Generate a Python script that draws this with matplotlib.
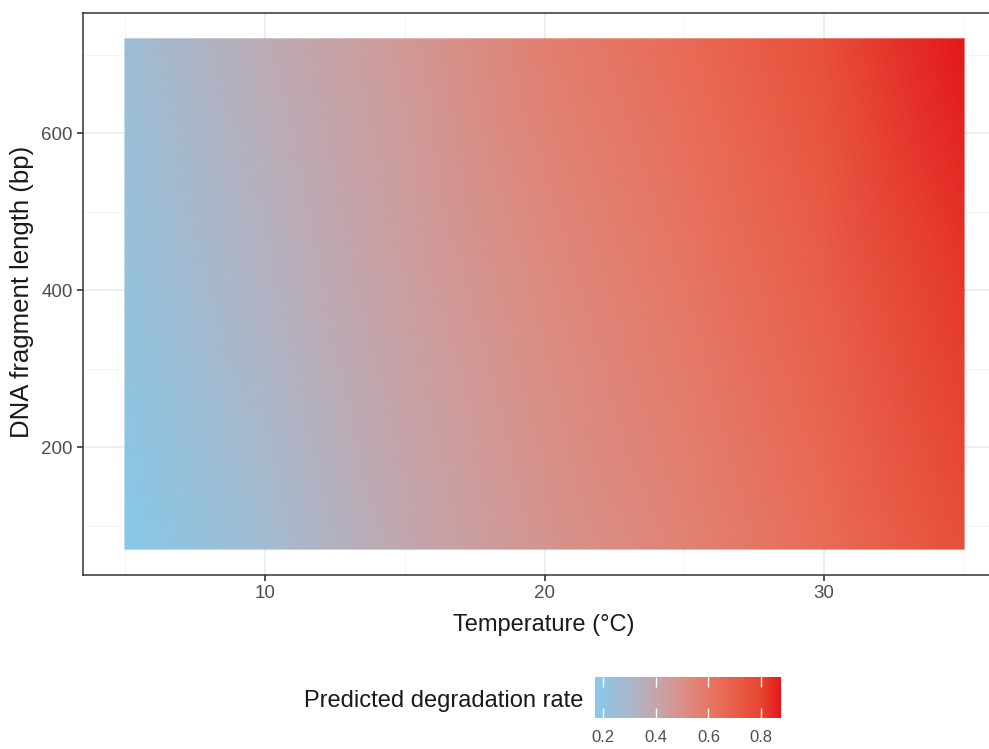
import numpy as np
import matplotlib
matplotlib.use("Agg")
import matplotlib.pyplot as plt
from matplotlib.colors import LinearSegmentedColormap, Normalize

plt.rcParams['font.family'] = ['Liberation Sans', 'DejaVu Sans']

# data
temperature = [5, 10, 15, 20, 25, 30, 35]          # degrees C
fragment_length = [70, 400, 720]                   # bp
rate_len70 = [0.17, 0.27, 0.39, 0.48, 0.555, 0.645, 0.76]
rate_len400 = [0.22, 0.33, 0.43, 0.52, 0.60, 0.70, 0.82]
rate_len720 = [0.26, 0.37, 0.46, 0.57, 0.65, 0.76, 0.875]
cbar_ticks = [0.2, 0.4, 0.6, 0.8]

rates = np.array([rate_len70, rate_len400, rate_len720])
T, L = np.meshgrid(temperature, fragment_length)

# skyblue -> red, as it looks in the image
cmap = LinearSegmentedColormap.from_list("degr", [
    (0.0, "#86C9E9"), (0.2, "#ADB6C8"), (0.35, "#C9A2A6"), (0.5, "#DD8B80"),
    (0.65, "#E9705C"), (0.8, "#E85640"), (0.9, "#E6442F"), (1.0, "#E3171C")])
norm = Normalize(vmin=rates.min(), vmax=rates.max())

W, H = 989, 749
fig = plt.figure(figsize=(W / 100, H / 100), dpi=100)
ax = fig.add_axes([83 / W, 1 - 574.6 / H, 923 / W, 561.3 / H])

mesh = ax.pcolormesh(T, L, rates, cmap=cmap, norm=norm, shading='gouraud', zorder=2)

ax.set_xlim(3.5, 36.5)
ax.set_ylim(37.5, 752.5)
ax.set_xticks([10, 20, 30])
ax.set_xticks([5, 15, 25, 35], minor=True)
ax.set_yticks([200, 400, 600])
ax.set_yticks([100, 300, 500, 700], minor=True)
ax.grid(which='major', color='#EBEBEB', lw=1.1, zorder=0)
ax.grid(which='minor', color='#F2F2F2', lw=0.6, zorder=0)
ax.set_axisbelow(True)
ax.tick_params(which='major', length=4.5, width=1.2, color='#333333',
               labelsize=13.5, labelcolor='#4D4D4D', pad=3)
ax.tick_params(which='minor', length=0)
for sp in ax.spines.values():
    sp.set_color('#333333')
    sp.set_linewidth(1.1)

fig.text(544 / W, 1 - 625 / H, 'Temperature (°C)', ha='center', va='center',
         fontsize=17, color='#1A1A1A')
fig.text(22 / W, 1 - 292 / H, 'DNA fragment length (bp)', ha='center', va='center',
         rotation=90, fontsize=18.5, color='#1A1A1A')

# colour bar legend
cax = fig.add_axes([595 / W, 1 - 718 / H, 186 / W, 41 / H])
cb = fig.colorbar(mesh, cax=cax, orientation='horizontal')
cb.outline.set_visible(False)
cb.set_ticks(cbar_ticks)
cb.set_ticklabels([f"{v:.1f}" for v in cbar_ticks])
cax.tick_params(axis='x', which='major', direction='in', length=7, width=1,
                color='white', top=True, bottom=True, labelsize=12,
                labelcolor='#4D4D4D', pad=9)
cax.minorticks_off()
fig.text(583 / W, 1 - 707 / H, 'Predicted degradation rate', ha='right',
         va='baseline', fontsize=17, color='#1A1A1A')

fig.savefig('out.png', dpi=100)
